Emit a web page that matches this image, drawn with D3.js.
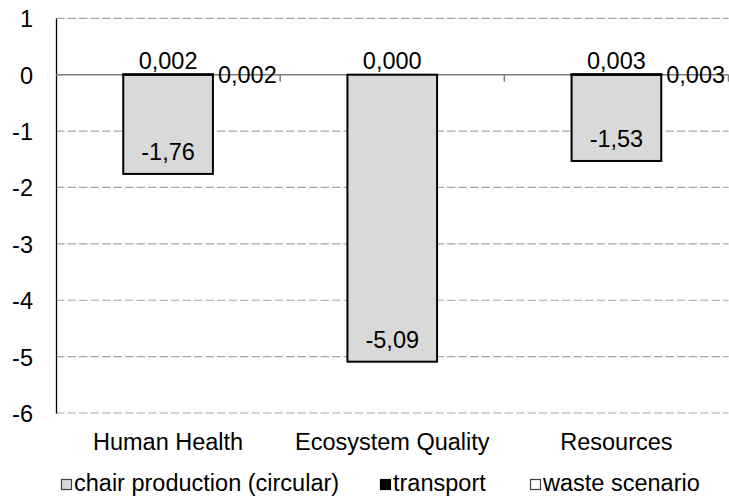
<!DOCTYPE html>
<html>
<head>
<meta charset="utf-8">
<script src="https://cdn.jsdelivr.net/npm/d3@7"></script>
<style>
  html, body { margin: 0; padding: 0; background: #fff; }
  text { font-family: "Liberation Sans", Arial, sans-serif; fill: #000; }
</style>
</head>
<body>
<svg id="chart" width="729" height="497"></svg>
<script>
// Impact categories and contributions per life-cycle stage
const categories = ["Human Health", "Ecosystem Quality", "Resources"];
const chairProduction = [-1.76, -5.09, -1.53];
const transport = [0.002, 0.000, 0.003];
const wasteScenario = [0.002, null, 0.003];
const yTicks = [1, 0, -1, -2, -3, -4, -5, -6];
const seriesNames = ["chair production (circular)", "transport", "waste scenario"];
const seriesFills = ["#d9d9d9", "#000000", "#ffffff"];

const FONT = 23.5;
const fmt = v => v.toFixed(Math.abs(v) < 0.1 ? 3 : 2).replace(".", ",");

const svg = d3.select("#chart");
const margin = { left: 56, right: 0.5, top: 18.3 };
const W = 729;

const x = d3.scaleBand()
  .domain(categories)
  .range([margin.left, W - margin.right])
  .paddingInner(0.6)
  .paddingOuter(0.3);

const y = d3.scaleLinear()
  .domain([-6, 1])
  .range([413, margin.top]);

// Dashed horizontal gridlines
svg.append("g")
  .selectAll("line")
  .data(yTicks.filter(d => d !== 0))
  .join("line")
  .attr("x1", margin.left)
  .attr("x2", W - margin.right)
  .attr("y1", d => y(d))
  .attr("y2", d => y(d))
  .attr("stroke", "#a6a6a6")
  .attr("stroke-width", 1.2)
  .attr("stroke-dasharray", "8.5,3");

// Y axis with labels
const yAxis = d3.axisLeft(y).tickValues(yTicks).tickSize(0).tickPadding(23)
  .tickFormat(d => String(d));
const gy = svg.append("g")
  .attr("transform", `translate(${margin.left},0)`)
  .call(yAxis);
gy.select(".domain").attr("stroke", "#000").attr("stroke-width", 1.3);
gy.selectAll("text")
  .style("font-size", FONT + "px")
  .style("font-family", "'Liberation Sans', Arial, sans-serif")
  .attr("fill", "#000")
  .attr("dy", "0.36em");

// Zero line and category boundary ticks
svg.append("line")
  .attr("x1", margin.left).attr("x2", W - margin.right)
  .attr("y1", y(0)).attr("y2", y(0))
  .attr("stroke", "#7f7f7f").attr("stroke-width", 1.5);

const step = x.step();
svg.append("g")
  .selectAll("line")
  .data(categories)
  .join("line")
  .attr("x1", d => x(d) + x.bandwidth() / 2 + step / 2)
  .attr("x2", d => x(d) + x.bandwidth() / 2 + step / 2)
  .attr("y1", y(0))
  .attr("y2", y(0) + 7)
  .attr("stroke", "#7f7f7f")
  .attr("stroke-width", 1.5);

// Stacked bars: negatives stack below zero, positives above
const rows = categories.map((c, i) => ({
  cat: c,
  vals: [chairProduction[i], transport[i], wasteScenario[i]]
}));

const bars = svg.append("g");
rows.forEach(r => {
  let pos = 0, neg = 0;
  r.vals.forEach((v, s) => {
    if (v === null) return;
    let y0, y1;
    if (v >= 0) { y0 = pos; y1 = pos + v; pos = y1; }
    else { y0 = neg; y1 = neg + v; neg = y1; }
    bars.append("rect")
      .attr("x", x(r.cat))
      .attr("width", x.bandwidth())
      .attr("y", y(Math.max(y0, y1)))
      .attr("height", Math.abs(y(y0) - y(y1)))
      .attr("fill", seriesFills[s])
      .attr("stroke", "#000")
      .attr("stroke-width", 2);
  });
});

// Value labels
const labels = svg.append("g").style("font-size", FONT + "px");
rows.forEach(r => {
  const cx = x(r.cat) + x.bandwidth() / 2;
  const [c, t, w] = r.vals;
  labels.append("text")
    .attr("x", cx).attr("y", y(c) - 14)
    .attr("text-anchor", "middle")
    .text(fmt(c));
  labels.append("text")
    .attr("x", cx).attr("y", y(t) - 5.5)
    .attr("text-anchor", "middle")
    .text(fmt(t));
  if (w !== null) {
    labels.append("text")
      .attr("x", x(r.cat) + x.bandwidth() + 5).attr("y", y(w) + 8.5)
      .attr("text-anchor", "start")
      .text(fmt(w));
  }
});

// Category labels
svg.append("g")
  .selectAll("text")
  .data(categories)
  .join("text")
  .attr("x", d => x(d) + x.bandwidth() / 2)
  .attr("y", 450)
  .attr("text-anchor", "middle")
  .style("font-size", FONT + "px")
  .text(d => d);

// Legend
const legendX = [61, 380, 530];
const leg = svg.append("g");
seriesNames.forEach((name, i) => {
  leg.append("rect")
    .attr("x", legendX[i] + 0.5).attr("y", 479.5)
    .attr("width", 10).attr("height", 10)
    .attr("fill", seriesFills[i])
    .attr("stroke", i === 1 ? "#000" : "#404040")
    .attr("stroke-width", 1.2);
  leg.append("text")
    .attr("x", legendX[i] + 13).attr("y", 491)
    .style("font-size", FONT + "px")
    .text(name);
});
</script>
</body>
</html>
